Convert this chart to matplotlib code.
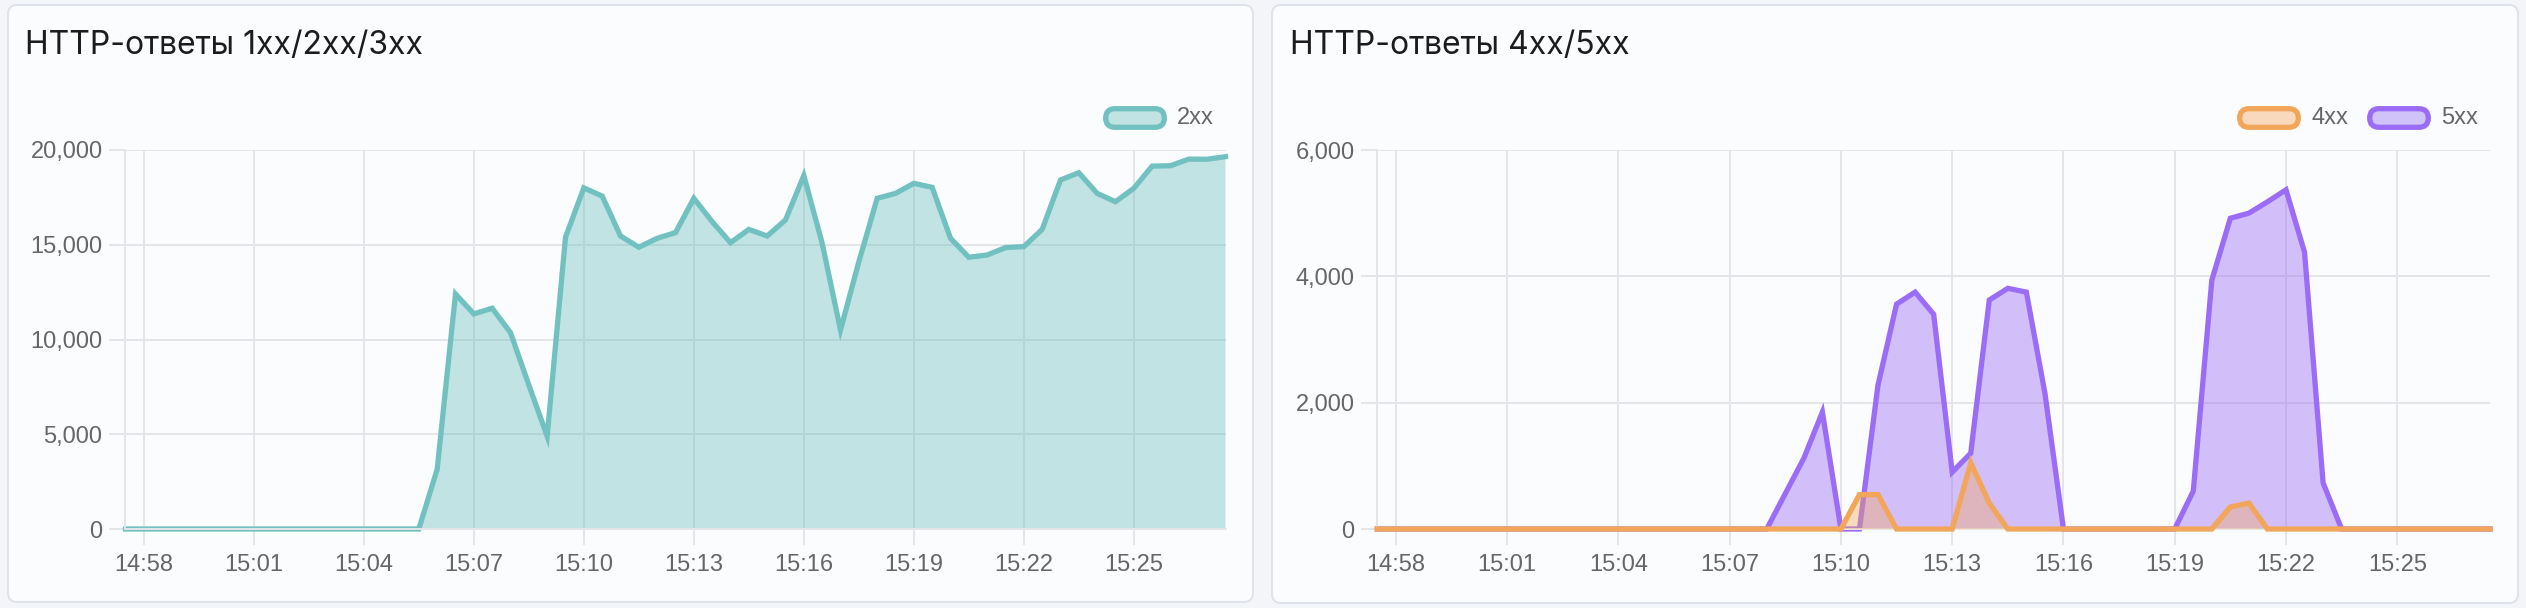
import matplotlib
matplotlib.use("Agg")
import matplotlib.pyplot as plt
import matplotlib.dates as mdates
from matplotlib.patches import FancyBboxPatch
from matplotlib.ticker import FuncFormatter, MultipleLocator
import pandas as pd

# 30-second samples, 14:57:30 .. 15:27:30
times = pd.date_range("2024-01-01 14:57:30", periods=61, freq="30s")

resp_2xx = [0] * 17 + [
    3150, 12400, 11350, 11650, 10360, 7600, 4900, 15400, 18000, 17570,
    15460, 14870, 15340, 15640, 17450, 16220, 15110, 15810, 15460, 16310,
    18650, 15080, 10500, 14100, 17450, 17710, 18240, 18030, 15340, 14340,
    14460, 14850, 14900, 15810, 18420, 18800, 17710, 17270, 17980, 19150,
    19170, 19520, 19510, 19650,
]
resp_4xx = [0] * 26 + [545, 545, 0, 0, 0, 0, 1050, 410] + [0] * 12 + [350, 410] + [0] * 13
resp_5xx = [0] * 22 + [
    560, 1120, 1850, 0, 0, 2280, 3560, 3750, 3400, 900, 1200, 3625, 3810,
    3750, 2150, 0, 0, 0, 0, 0, 0, 0, 600, 3940, 4920, 5000, 5180, 5370,
    4380, 730,
] + [0] * 9

titles = ["HTTP-ответы 1xx/2xx/3xx", "HTTP-ответы 4xx/5xx"]

W, H = 2526, 608
BG = "#f3f5f9"
CARD = "#fbfcfe"
CARD_EDGE = "#dfe3ea"
GRID = "#e4e5e8"
TICK_TXT = "#666666"

TEAL = "#72c1c1"
ORANGE = "#f2a65a"
PURPLE = "#9b6cf6"

fig = plt.figure(figsize=(W / 100, H / 100), dpi=100, facecolor=BG)


def inch(x, y):
    # top-left pixel coords -> inches from bottom-left
    return x / 100, (H - y) / 100


def card(x0, y0, x1, y1):
    ax0, ay0 = inch(x0, y1)
    p = FancyBboxPatch((ax0, ay0), (x1 - x0) / 100, (y1 - y0) / 100,
                       boxstyle="round,pad=0,rounding_size=0.09",
                       transform=fig.dpi_scale_trans, facecolor=CARD,
                       edgecolor=CARD_EDGE, lw=1.5, zorder=-1)
    fig.add_artist(p)


def legend_item(x0, label, color, fill):
    bx, by = inch(x0 + 2.7, 127.3)
    p = FancyBboxPatch((bx, by), 58.6 / 100, 18.6 / 100,
                       boxstyle="round,pad=0,rounding_size=0.093",
                       transform=fig.dpi_scale_trans, facecolor=fill,
                       edgecolor=color, lw=3.8, zorder=5)
    fig.add_artist(p)
    tx, ty = inch(x0 + 74, 118)
    fig.text(tx, ty, label, transform=fig.dpi_scale_trans, fontsize=17,
             color=TICK_TXT, family="Liberation Sans", va="center", ha="left")


def make_axes(x0, x1, ymax, ystep):
    y_top, y_bot = 150, 529
    ax = fig.add_axes([x0 / W, (H - y_bot) / H, (x1 - x0) / W, (y_bot - y_top) / H])
    ax.set_facecolor("none")
    ax.set_xlim(times[0], times[-1])
    ax.set_ylim(0, ymax)
    ax.yaxis.set_major_locator(MultipleLocator(ystep))
    ax.yaxis.set_major_formatter(FuncFormatter(lambda v, p: f"{v:,.0f}"))
    ax.xaxis.set_major_locator(mdates.MinuteLocator(byminute=range(1, 60, 3)))
    ax.xaxis.set_major_formatter(mdates.DateFormatter("%H:%M"))
    ax.grid(True, color=GRID, lw=1.4)
    ax.set_axisbelow(True)
    for s in ["top", "right"]:
        ax.spines[s].set_visible(False)
    for s in ["left", "bottom"]:
        ax.spines[s].set_color(GRID)
        ax.spines[s].set_linewidth(1.4)
    ax.tick_params(axis="both", length=11.5, width=1.4, color=GRID,
                   labelsize=17, labelcolor=TICK_TXT)
    ax.tick_params(axis="y", pad=5)
    ax.tick_params(axis="x", pad=6.5)
    for lab in ax.get_xticklabels() + ax.get_yticklabels():
        lab.set_family("Liberation Sans")
    return ax


def area(ax, values, color, alpha, z):
    ax.fill_between(times, 0, values, facecolor=color, alpha=alpha, lw=0, zorder=z)
    ax.plot(times, values, color=color, lw=3.8, solid_joinstyle="miter",
            clip_on=False, zorder=z + 0.5)


# cards
card(8, 5, 1253, 602)
card(1272, 5, 2518, 603)

# titles
for tx, t in zip([25, 1290], titles):
    x, y = inch(tx, 45)
    fig.text(x, y, t, transform=fig.dpi_scale_trans, fontsize=23,
             family="Inter", color="#1c1c1e", va="center", ha="left")

# left panel
ax1 = make_axes(125.5, 1225.5, 20000, 5000)
area(ax1, resp_2xx, TEAL, 0.42, 2)
legend_item(1103, "2xx", TEAL, "#c1e3e4")

# right panel
ax2 = make_axes(1377.3, 2490, 6000, 2000)
area(ax2, resp_5xx, PURPLE, 0.42, 2)
area(ax2, resp_4xx, ORANGE, 0.38, 3)
legend_item(2237, "4xx", ORANGE, "#f8d9bd")
legend_item(2367, "5xx", PURPLE, "#d0c3f9")

fig.savefig("out.png", dpi=100, facecolor=BG)
